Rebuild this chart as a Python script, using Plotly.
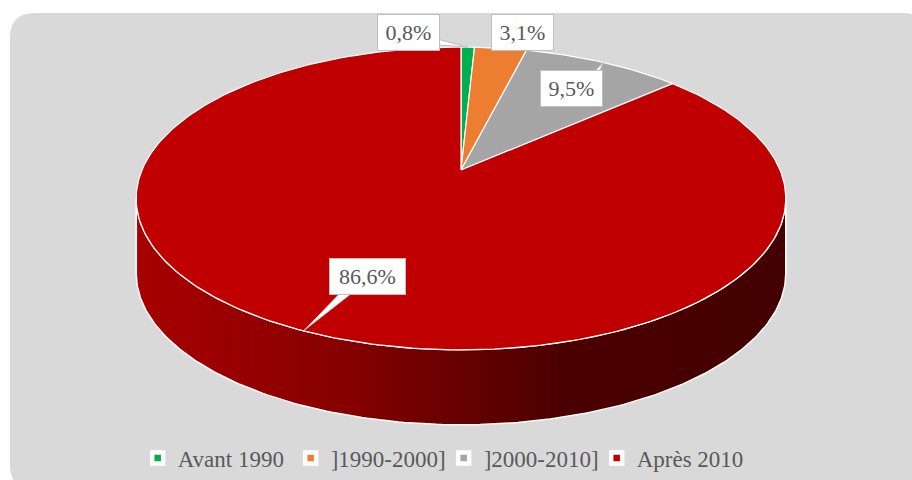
import numpy as np
import plotly.graph_objects as go

# ---- data ----
categories = ["Avant 1990", "]1990-2000]", "]2000-2010]", "Après 2010"]
values = [0.8, 3.1, 9.5, 86.6]
colors = ["#00b050", "#ed7d31", "#a5a5a5", "#c00000"]

# ---- geometry / style (pixel space) ----
CX, CY = 461, 170          # projected disk centre
A, B, K = 319, 146, 0.188  # perspective ellipse parameters
DEPTH = 75                 # height of the 3D side
FONT = "Liberation Serif"
TXT = "#595959"


def proj(theta_deg, dy=0.0):
    t = np.radians(theta_deg)
    d = 1 + K * np.cos(t)
    return CX + A * np.sin(t) / d, CY - B * np.cos(t) / d + dy


fig = go.Figure()

# ---- side of the cylinder (front, visible part) ----
th_r = np.degrees(np.arccos(-K))
th_l = 360 - th_r
stops_x = [136, 340, 560, 786]
stops_c = [168, 136, 76, 68]
edges = np.linspace(th_r, th_l, 121)
step = edges[1] - edges[0]
for a0, a1 in zip(edges[:-1], edges[1:]):
    a1e = min(a1 + step * 0.6, th_l)
    seg = np.linspace(a0, a1e, 4)
    tx, ty = proj(seg)
    bx, by = proj(seg[::-1], DEPTH)
    xm = proj((a0 + a1) / 2)[0]
    r = int(np.interp(xm, stops_x, stops_c))
    col = f"rgb({r},0,0)"
    fig.add_trace(go.Scatter(
        x=list(tx) + list(bx) + [tx[0]], y=list(ty) + list(by) + [ty[0]],
        mode="lines", fill="toself", fillcolor=col,
        line=dict(color=col, width=0), hoverinfo="skip", showlegend=False))

# outline of the side
arc = np.linspace(th_r, th_l, 200)
tx, ty = proj(arc)
bx, by = proj(arc[::-1], DEPTH)
fig.add_trace(go.Scatter(
    x=list(tx) + list(bx) + [tx[0]], y=list(ty) + list(by) + [ty[0]],
    mode="lines", line=dict(color="white", width=1.5),
    hoverinfo="skip", showlegend=False))

# ---- top face slices ----
cum = np.concatenate([[0], np.cumsum(values)]) / sum(values) * 360
for i, (cat, v, c) in enumerate(zip(categories, values, colors)):
    a0, a1 = cum[i], cum[i + 1]
    n = max(3, int((a1 - a0) / 1.0) + 2)
    seg = np.linspace(a0, a1, n)
    px, py = proj(seg)
    fig.add_trace(go.Scatter(
        x=[CX] + list(px) + [CX], y=[CY] + list(py) + [CY],
        mode="lines", fill="toself", fillcolor=c,
        line=dict(color="white", width=1.2), hoverinfo="skip", showlegend=False))

# ---- data labels with callout pointers ----
box_pos = [(408, 32), (522, 32), (571, 88), (367, 276)]
box_w = [51, 51, 51, 65]
base_off = [((18, 4), (18, 12)), ((0, 0), (6, 0)), ((18, -10), (26, -10)), ((-20, 10), (-6, 10))]
for i, v in enumerate(values):
    mid = (cum[i] + cum[i + 1]) / 2
    tipx, tipy = proj(mid)
    bxc, byc = box_pos[i]
    (o1x, o1y), (o2x, o2y) = base_off[i]
    if i != 1:
        fig.add_trace(go.Scatter(
            x=[bxc + o1x, tipx, bxc + o2x, bxc + o1x],
            y=[byc + o1y, tipy, byc + o2y, byc + o1y],
            mode="lines", fill="toself", fillcolor="white",
            line=dict(color="#bfbfbf", width=1), hoverinfo="skip", showlegend=False))
    label = f"{v:.1f}".replace(".", ",") + "%"
    fig.add_annotation(
        x=bxc, y=byc, xref="x", yref="y", text=label, showarrow=False,
        font=dict(family=FONT, size=22, color=TXT),
        bgcolor="white", bordercolor="#bfbfbf", borderwidth=1, borderpad=5,
        width=box_w[i], align="center")

# ---- legend entries ----
for cat, c in zip(categories, colors):
    fig.add_trace(go.Scatter(
        x=[None], y=[None], mode="markers", name=cat,
        marker=dict(symbol="square", size=11, color=c, line=dict(color="white", width=4.5))))

fig.update_layout(
    width=912, height=480,
    margin=dict(l=0, r=0, t=0, b=0),
    paper_bgcolor="white", plot_bgcolor="rgba(0,0,0,0)",
    xaxis=dict(range=[0, 912], visible=False, fixedrange=True),
    yaxis=dict(range=[480, 0], visible=False, fixedrange=True),
    showlegend=True,
    legend=dict(orientation="h", x=0.4865, xanchor="center", y=1 - 458 / 480, yanchor="middle",
                font=dict(family=FONT, size=23, color=TXT), bgcolor="rgba(0,0,0,0)",
                itemwidth=30, entrywidth=108, entrywidthmode="pixels"),
    shapes=[dict(type="path", layer="below", xref="x", yref="y",
                 path="M 10 38 Q 10 13 35 13 L 903 13 Q 928 13 928 38 L 928 465 "
                      "Q 928 490 903 490 L 35 490 Q 10 490 10 465 Z",
                 fillcolor="#d9d9d9", line=dict(width=0))],
    hovermode=False,
)

fig.write_html("out.html", config={"displayModeBar": False},
               post_script="document.body.style.margin='0px';")
